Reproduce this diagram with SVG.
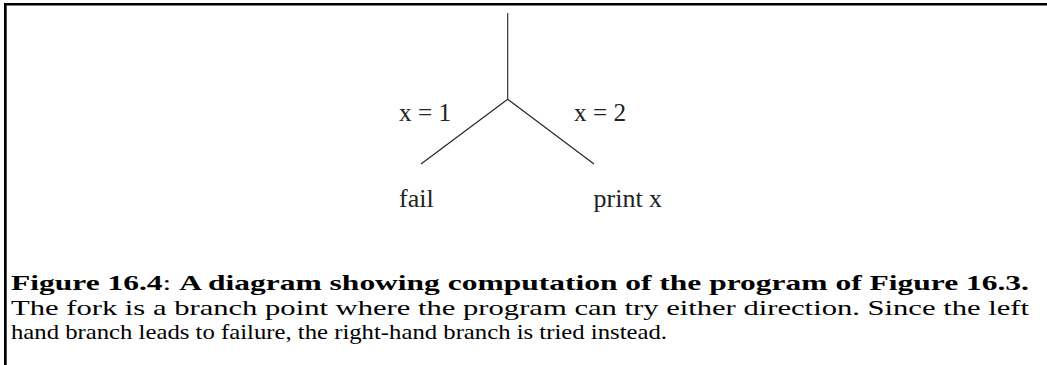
<svg xmlns="http://www.w3.org/2000/svg" width="1047" height="365" viewBox="0 0 1047 365">
<style>
.edge{stroke:#222;stroke-width:1.1;fill:none}
.lbl{font-family:"Liberation Serif","Times New Roman",serif;fill:#222}
.cap{font-family:"Liberation Serif","Times New Roman",serif;font-size:21px;fill:#000}
.b{font-weight:bold}
</style>
<rect x="0" y="0" width="1047" height="365" fill="#fff"/>
<g id="frame">
<rect x="4" y="3" width="1043" height="2.5" fill="#000"/>
<rect x="4" y="3" width="2.7" height="362" fill="#000"/>
</g>
<g id="connectors">
<line class="edge" x1="507.7" y1="13" x2="507.7" y2="99.3"/>
<line class="edge" x1="507.7" y1="99.3" x2="421" y2="164"/>
<line class="edge" x1="507.7" y1="99.3" x2="594" y2="164"/>
</g>
<g id="label-x1"><text class="lbl" x="399" y="121" font-size="25" textLength="52" lengthAdjust="spacingAndGlyphs">x = 1</text></g>
<g id="label-x2"><text class="lbl" x="574" y="121" font-size="25" textLength="52" lengthAdjust="spacingAndGlyphs">x = 2</text></g>
<g id="node-fail"><text class="lbl" x="399" y="207" font-size="26">fail</text></g>
<g id="node-print"><text class="lbl" x="593.5" y="207" font-size="26">print x</text></g>
<g id="caption">
<text class="cap" x="11" y="290" textLength="1018" lengthAdjust="spacingAndGlyphs"><tspan class="b">Figure 16.4</tspan>: <tspan class="b">A diagram showing computation of the program of Figure 16.3.</tspan></text>
<text class="cap" x="11" y="314.5" textLength="1018" lengthAdjust="spacingAndGlyphs">The fork is a branch point where the program can try either direction.  Since the left</text>
<text class="cap" x="11" y="339" textLength="656" lengthAdjust="spacingAndGlyphs">hand branch leads to failure, the right-hand branch is tried instead.</text>
</g>
</svg>
